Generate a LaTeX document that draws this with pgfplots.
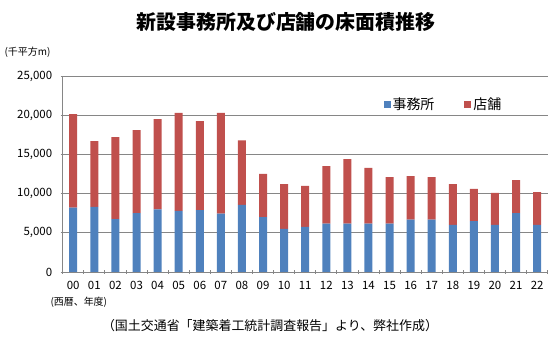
\documentclass[border=0pt]{standalone}
\usepackage{pgfplots}
\pgfplotsset{compat=1.18}
\usepackage{fontspec}
\setmainfont{Noto Sans CJK JP}
\definecolor{office}{HTML}{4F81BD}
\definecolor{shop}{HTML}{C0504D}
\definecolor{gridc}{HTML}{868686}
\pgfplotstableread{
yr office shop
0 8200 11950
1 8300 8400
2 6760 10440
3 7500 10600
4 8000 11500
5 7800 12500
6 7900 11360
7 7440 12860
8 8550 8250
9 7000 5500
10 5500 5700
11 5740 5230
12 6160 7340
13 6160 8240
14 6160 7110
15 6160 5940
16 6670 5570
17 6670 5430
18 6000 5200
19 6500 4100
20 6000 4080
21 7500 4230
22 6000 4200
}\data
\begin{document}
\begin{tikzpicture}
\useasboundingbox (0,0) rectangle (556bp,340bp);
\node[font=\fontsize{20}{22}\selectfont\bfseries] at (286bp,318bp) {新設事務所及び店舗の床面積推移};
\node[font=\fontsize{10}{11}\selectfont, anchor=west] at (1bp,288bp) {(千平方m)};
\node[font=\fontsize{10}{11}\selectfont, anchor=west] at (47bp,38bp) {(西暦、年度)};
\node[font=\fontsize{13}{14}\selectfont] at (270bp,14bp) {（国土交通省「建築着工統計調査報告」より、弊社作成）};
\begin{axis}[
  at={(62.7bp,68bp)}, anchor=south west,
  scale only axis, width=485bp, height=196bp,
  ybar stacked, bar width=8bp,
  xmin=-0.5, xmax=22.5, ymin=0, ymax=25000,
  ytick={0,5000,...,25000}, scaled y ticks=false,
  /pgf/number format/assume math mode=true,
  yticklabel style={/pgf/number format/.cd, 1000 sep={,}, /tikz/.cd, xshift=-5bp},
  xticklabel style={yshift=-4bp},
  xtick={0,...,22},
  xticklabels={00,01,02,03,04,05,06,07,08,09,10,11,12,13,14,15,16,17,18,19,20,21,22},
  major x tick style={draw=none},
  minor xtick={-0.5,0.5,...,22.5},
  minor tick length=4bp, major tick length=4bp,
  tick align=outside,
  axis lines=left,
  axis line style={gridc, -, line width=0.8pt},
  tick style={gridc, line width=0.8pt},
  ymajorgrids, grid style={gridc, line width=0.8pt},
  ticklabel style={font=\fontsize{11.5}{12}\selectfont},
  legend style={at={(0.655,0.857)}, anchor=west, draw=none, fill=none,
    legend columns=2, font=\fontsize{14}{15}\selectfont,
    /tikz/every even column/.append style={column sep=28bp}},
  legend image code/.code={\fill[#1] (0bp,-3.5bp) rectangle (7bp,3.5bp);},
]
\addplot[fill=office, draw=none] table[x=yr, y=office] {\data};
\addplot[fill=shop, draw=none] table[x=yr, y=shop] {\data};
\legend{事務所, 店舗}
\end{axis}
\end{tikzpicture}
\end{document}
